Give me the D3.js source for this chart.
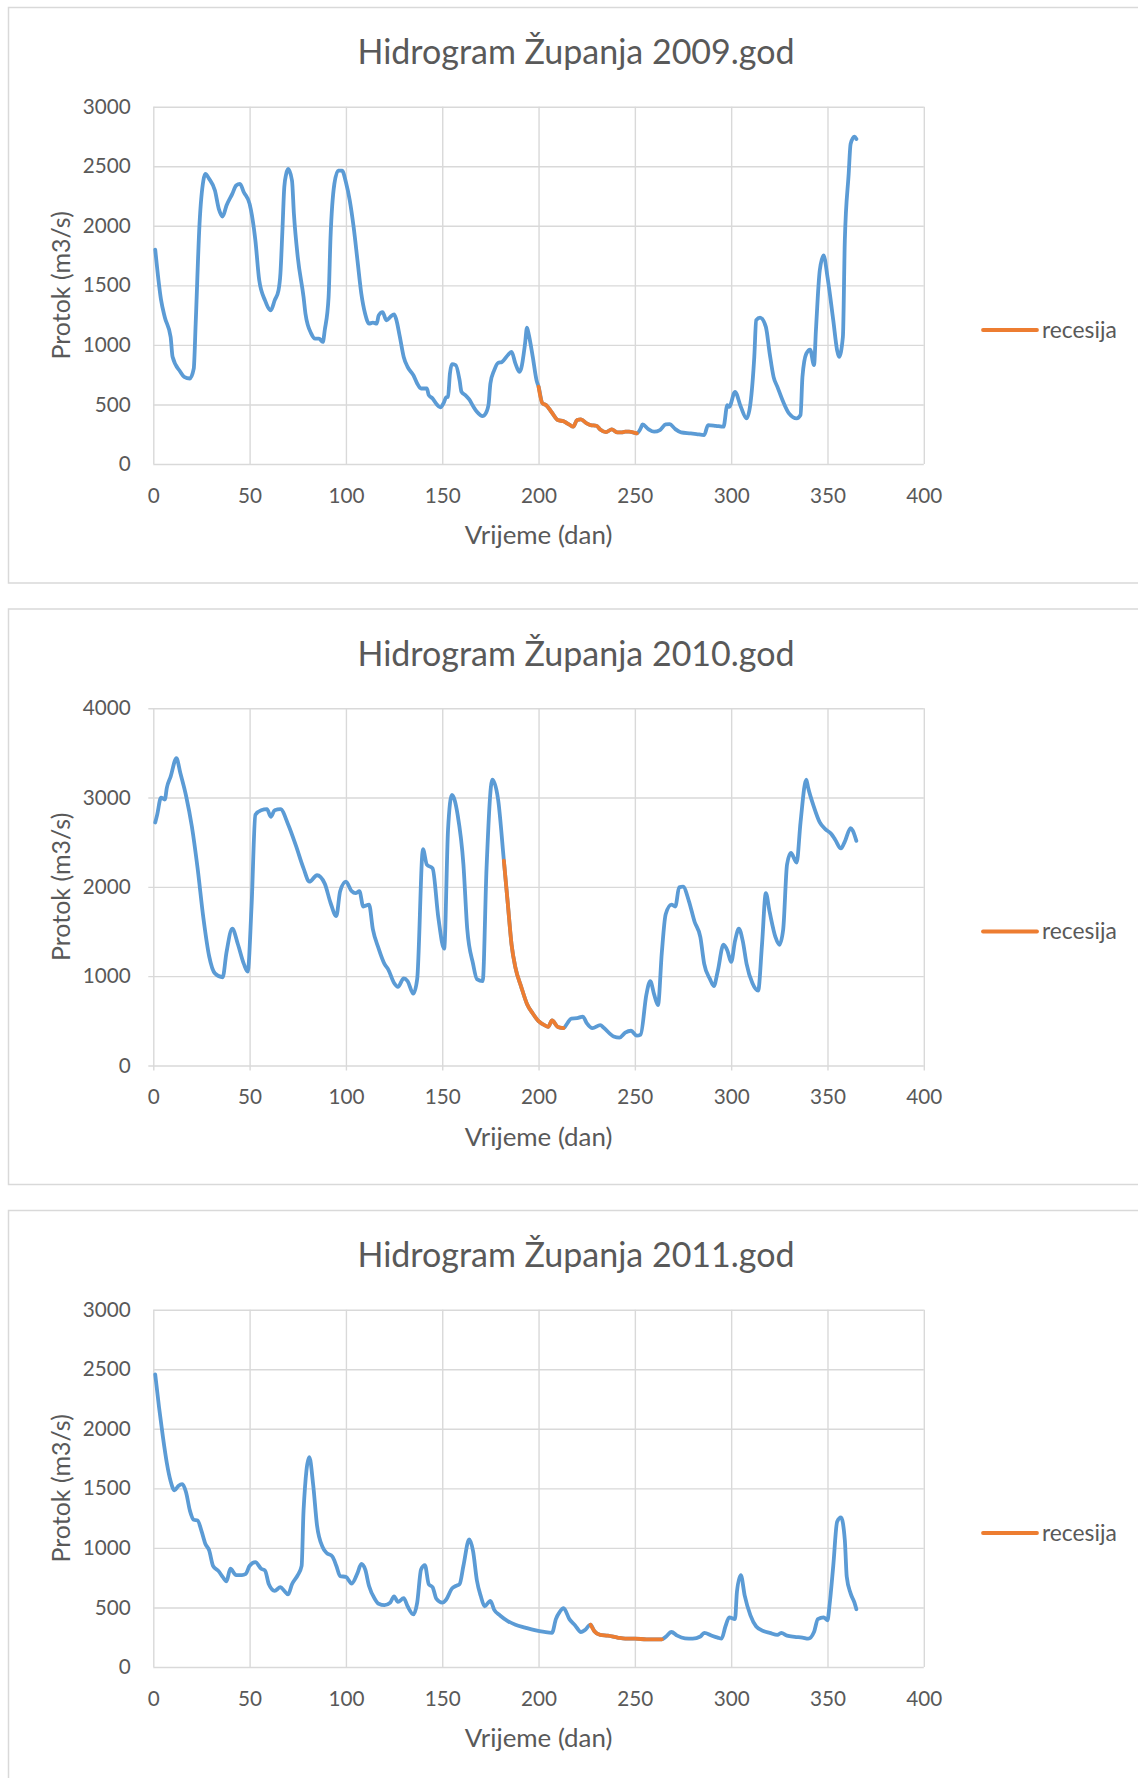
<!DOCTYPE html>
<html>
<head>
<meta charset="utf-8">
<script src="https://cdn.jsdelivr.net/npm/d3@7"></script>
<style>
  body { margin: 0; background: #fff; }
  text { font-family: Lato, "Open Sans", sans-serif; fill: #595959; }
</style>
</head>
<body>
<div id="vis"></div>
<script>
// --- data (day, flow m3/s) ---
var days2009 = [1,4,6,9,10,14,16,19,21,22,24,26,27,29,32,34,36,38,41,43,45,47,50,53,55,58,61,63,65,66,67,68,69,70,72,73,75,78,79,82,84,86,88,89,91,92,94,96,98,100,102,104,106,108,110,112,114,116,117,119,121,123,125,126,128,130,132,135,137,139,142,143,145,147,149,151,152,153,154,155,157,159,160,162,164,166,168,171,172,174,175,177,179,181,184,186,188,190,191,193,194,195,197,199,200,202,204,207,210,213,216,218,220,222,225,227,230,232,235,238,241,243,245,247,251,253,254,257,260,263,266,268,271,274,279,282,286,288,292,296,298,299,302,305,308,310,312,313,315,318,320,322,324,327,330,334,336,337,339,341,343,344,346,348,350,353,355,356,358,359,361,362,364,365];
var flow2009 = [1800,1380,1230,1067,900,775,732,718,800,1180,2017,2380,2435,2394,2296,2142,2078,2170,2268,2338,2352,2282,2184,1877,1542,1374,1290,1374,1458,1600,1950,2324,2435,2477,2380,2100,1737,1402,1262,1095,1053,1053,1025,1123,1402,1900,2352,2463,2463,2366,2212,1989,1709,1430,1260,1179,1187,1179,1248,1276,1207,1234,1257,1220,1067,899,816,746,676,634,634,578,550,503,475,522,559,564,760,838,830,704,606,578,542,486,438,402,411,494,676,788,849,857,913,941,843,774,802,1011,1145,1081,899,700,650,510,494,430,369,358,330,313,369,374,341,327,321,290,268,290,265,265,271,271,257,299,332,293,271,285,332,335,293,265,257,251,243,327,321,313,494,480,606,480,383,508,899,1207,1229,1151,927,732,648,522,425,383,411,732,927,961,830,1123,1626,1751,1570,1207,955,899,1067,1877,2435,2687,2748,2729];
var recession2009 = [200, 251];

var days2010 = [1,2,4,6,7,9,12,14,17,20,23,26,29,32,36,38,41,44,47,49,51,53,56,59,61,63,66,70,74,78,81,85,89,92,95,97,100,103,105,107,109,112,114,117,120,122,125,127,130,132,135,137,140,142,145,148,151,153,155,158,161,163,166,168,171,173,176,179,182,184,186,188,191,194,197,200,204,205,207,210,213,215,217,220,223,225,228,232,234,239,242,245,248,251,253,256,258,260,262,264,266,269,271,273,275,278,281,284,286,289,291,293,296,298,300,302,304,306,308,311,314,316,318,320,323,325,327,329,331,334,336,339,340,343,346,349,352,354,357,359,362,363,365];
var flow2010 = [2721,2806,2999,2978,3106,3234,3440,3277,3020,2678,2207,1651,1223,1031,988,1266,1532,1352,1138,1052,1780,2806,2858,2870,2785,2858,2870,2699,2464,2207,2058,2130,2036,1822,1673,1951,2058,1951,1929,1951,1780,1801,1523,1309,1138,1074,924,881,975,945,804,967,2421,2250,2207,1651,1309,2635,3029,2806,2250,1523,1138,967,945,2207,3200,2978,2293,1822,1352,1095,881,689,582,496,441,432,505,432,419,475,526,530,548,475,419,453,419,325,312,368,389,334,347,796,945,796,676,1266,1694,1801,1780,1994,2002,1844,1609,1437,1138,967,890,1052,1352,1288,1159,1395,1532,1395,1138,924,839,1352,1929,1716,1437,1352,1523,2250,2379,2272,2721,3200,3106,2892,2721,2644,2592,2528,2430,2507,2657,2635,2515];
var recession2010 = [182, 213];

var days2011 = [1,3,5,7,9,11,13,15,17,19,21,23,25,27,29,31,34,36,38,40,43,46,48,50,53,56,58,60,63,66,68,70,72,75,77,78,81,83,85,88,90,93,95,97,100,103,106,108,110,112,115,117,120,123,125,127,130,132,135,137,139,141,143,145,147,150,152,155,157,159,161,164,166,168,170,172,175,177,180,184,188,193,198,203,207,209,211,213,216,219,222,224,227,229,232,236,241,245,250,256,261,264,266,269,272,276,280,284,286,290,293,295,297,299,302,303,305,307,310,313,317,320,324,326,329,333,337,340,343,345,348,350,351,353,355,357,359,360,362,364,365];
var flow2011 = [2456,2178,1931,1715,1560,1483,1520,1536,1468,1313,1236,1230,1143,1035,979,850,803,757,720,825,772,772,782,850,880,825,810,695,640,670,640,609,695,772,850,1313,1761,1529,1189,1004,958,927,850,763,757,701,788,865,819,680,572,531,519,541,593,547,578,510,442,541,819,856,695,670,572,541,565,658,680,695,850,1072,973,726,596,510,556,479,433,386,355,331,309,294,287,402,463,494,402,349,294,309,355,300,269,263,247,238,238,232,232,232,253,294,263,241,238,256,287,263,247,238,340,417,402,633,772,602,433,340,300,287,269,287,263,253,247,238,294,402,417,392,510,850,1220,1257,1066,757,618,541,485];
var recession2011 = [227, 264];

var titles = ["Hidrogram Županja 2009.god", "Hidrogram Županja 2010.god", "Hidrogram Županja 2011.god"];
var yMaxes = [3000, 4000, 3000];
var yTickSteps = [500, 1000, 500];
var outerTicks = [0, 5, 0];   // the 2010 chart has small outward tick marks
var xTicks = [0, 50, 100, 150, 200, 250, 300, 350, 400];
var legendLabel = "recesija";

// --- layout ---
var width = 1138, height = 1778;
var boxTops = [7.5, 609, 1210.5];
var boxH = 575.5;
var plot = { left: 153.3, right: 923.8, top: 99.2, bottom: 456.5 };

var svg = d3.select("#vis").append("svg")
    .attr("width", width)
    .attr("height", height);

var series = [
    { days: days2009, flow: flow2009, rec: recession2009 },
    { days: days2010, flow: flow2010, rec: recession2010 },
    { days: days2011, flow: flow2011, rec: recession2011 }
];

series.forEach(function(s, i) {
    var pts = s.days.map(function(d, k) { return { day: d, q: s.flow[k] }; });
    var recPts = pts.filter(function(p) { return p.day >= s.rec[0] && p.day <= s.rec[1]; });

    var g = svg.append("g").attr("transform", "translate(0," + boxTops[i] + ")");

    g.append("rect")
        .attr("x", 8.5).attr("y", 0)
        .attr("width", 1140).attr("height", boxH)
        .attr("fill", "#fff")
        .attr("stroke", "#d9d9d9")
        .attr("stroke-width", 1.5);

    g.append("text")
        .attr("x", 576).attr("y", 56.5)
        .attr("text-anchor", "middle")
        .style("font-size", "34px")
        .text(titles[i]);

    var x = d3.scaleLinear().domain([0, 400]).range([plot.left, plot.right]);
    var y = d3.scaleLinear().domain([0, yMaxes[i]]).range([plot.bottom, plot.top]);
    var yTicks = d3.range(0, yMaxes[i] + 1, yTickSteps[i]);
    var w = plot.right - plot.left, h = plot.bottom - plot.top;
    var tk = outerTicks[i];

    // gridlines (extended outward by tk on the 2010 chart)
    var yAxis = g.append("g")
        .attr("transform", "translate(" + (plot.left - tk) + ",0)")
        .call(d3.axisLeft(y).tickValues(yTicks).tickFormat(d3.format("d"))
            .tickSizeInner(-(w + tk)).tickSizeOuter(0).tickPadding(22.6 - tk));
    var xAxis = g.append("g")
        .attr("transform", "translate(0," + (plot.bottom + tk) + ")")
        .call(d3.axisBottom(x).tickValues(xTicks).tickFormat(d3.format("d"))
            .tickSizeInner(-(h + tk)).tickSizeOuter(0).tickPadding(24 - tk));

    [yAxis, xAxis].forEach(function(ax) {
        ax.select(".domain").remove();
        ax.selectAll(".tick line").attr("stroke", "#d9d9d9").attr("stroke-width", 1.4);
        ax.selectAll(".tick text")
            .attr("fill", "#595959")
            .style("font-family", "Lato, sans-serif")
            .style("font-size", "20.7px");
    });

    // axis titles
    g.append("text")
        .attr("transform", "translate(61," + ((plot.top + plot.bottom) / 2) + ") rotate(-90)")
        .attr("text-anchor", "middle")
        .attr("dy", "0.35em")
        .style("font-size", "25px")
        .text("Protok (m3/s)");

    g.append("text")
        .attr("x", (plot.left + plot.right) / 2).attr("y", 527.5)
        .attr("text-anchor", "middle")
        .attr("dy", "0.35em")
        .style("font-size", "25.9px")
        .text("Vrijeme (dan)");

    var line = d3.line()
        .x(function(d) { return x(d.day); })
        .y(function(d) { return y(d.q); })
        .curve(d3.curveMonotoneX);

    g.append("path").datum(pts)
        .attr("d", line)
        .attr("fill", "none")
        .attr("stroke", "#5b9bd5")
        .attr("stroke-width", 3.8)
        .attr("stroke-linejoin", "round")
        .attr("stroke-linecap", "round");

    g.append("path").datum(recPts)
        .attr("d", line)
        .attr("fill", "none")
        .attr("stroke", "#ed7d31")
        .attr("stroke-width", 3.8)
        .attr("stroke-linejoin", "round")
        .attr("stroke-linecap", "round");

    // legend
    g.append("line")
        .attr("x1", 983).attr("x2", 1037)
        .attr("y1", 322.5).attr("y2", 322.5)
        .attr("stroke", "#ed7d31")
        .attr("stroke-width", 3.8)
        .attr("stroke-linecap", "round");
    g.append("text")
        .attr("x", 1042).attr("y", 322.5)
        .attr("dy", "0.35em")
        .style("font-size", "22.8px")
        .text(legendLabel);
});
</script>
</body>
</html>
